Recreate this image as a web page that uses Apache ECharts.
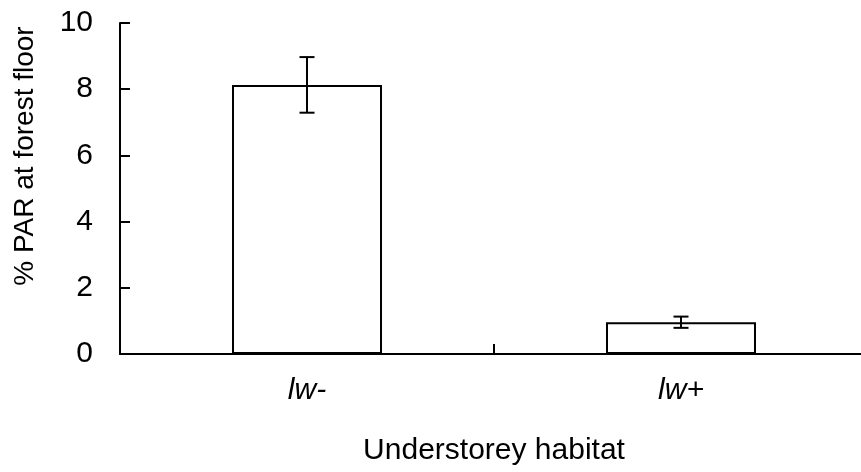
<!DOCTYPE html>
<html>
<head>
<meta charset="utf-8">
<script src="https://cdn.jsdelivr.net/npm/echarts@6/dist/echarts.min.js"></script>
<style>html,body{margin:0;padding:0;background:#fff}#c{width:861px;height:472px}</style>
</head>
<body>
<div id="c"></div>
<script>
const categories = ['lw-', 'lw+'];
const means = [8.13, 0.96];
const errors = [0.84, 0.17];
const yTicks = [0, 2, 4, 6, 8, 10];

const chart = echarts.init(document.getElementById('c'), null, {renderer: 'canvas'});
const FONT = '"Liberation Sans", Arial, sans-serif';
const errData = categories.map((c, i) => [i, means[i] - errors[i], means[i] + errors[i]]);

chart.setOption({
  animation: false,
  backgroundColor: '#fff',
  grid: {left: 120, top: 23, width: 748, height: 331, outerBoundsMode: 'none', containLabel: false},
  xAxis: {
    type: 'category',
    data: categories,
    boundaryGap: true,
    axisLine: {lineStyle: {color: '#000', width: 2}},
    axisTick: {show: true, alignWithLabel: false, inside: true, length: 10, interval: 0, lineStyle: {color: '#000', width: 2}},
    axisLabel: {color: '#000', fontSize: 30, fontStyle: 'italic', fontFamily: FONT, margin: 22, interval: 0},
    name: 'Understorey habitat',
    nameLocation: 'middle',
    nameGap: 82,
    nameTextStyle: {color: '#000', fontSize: 30, fontFamily: FONT, verticalAlign: 'top'}
  },
  yAxis: {
    type: 'value',
    min: yTicks[0],
    max: yTicks[yTicks.length - 1],
    interval: 2,
    splitLine: {show: false},
    axisLine: {show: true, lineStyle: {color: '#000', width: 2}},
    axisTick: {show: true, inside: true, length: 10, lineStyle: {color: '#000', width: 2}},
    axisLabel: {color: '#000', fontSize: 30, fontFamily: FONT, margin: 27}
  },
  graphic: [{
    type: 'text',
    x: 25, y: 156,
    rotation: Math.PI / 2,
    style: {
      text: '% PAR at forest floor',
      fontSize: 28, fontFamily: FONT, fill: '#000',
      textAlign: 'center', textVerticalAlign: 'middle'
    }
  }],
  series: [{
    type: 'bar',
    data: means,
    barWidth: 150,
    itemStyle: {color: '#fff', borderColor: '#000', borderWidth: 2},
    z: 2
  }, {
    type: 'custom',
    data: errData,
    z: 3,
    renderItem: function (params, api) {
      const x = api.value(0);
      const lo = api.coord([x, api.value(1)]);
      const hi = api.coord([x, api.value(2)]);
      const w = 7.5;
      const st = {stroke: '#000', lineWidth: 2};
      return {
        type: 'group',
        children: [
          {type: 'line', shape: {x1: lo[0], y1: lo[1], x2: hi[0], y2: hi[1]}, style: st},
          {type: 'line', shape: {x1: lo[0] - w, y1: lo[1], x2: lo[0] + w, y2: lo[1]}, style: st},
          {type: 'line', shape: {x1: hi[0] - w, y1: hi[1], x2: hi[0] + w, y2: hi[1]}, style: st}
        ]
      };
    }
  }]
});
</script>
</body>
</html>
